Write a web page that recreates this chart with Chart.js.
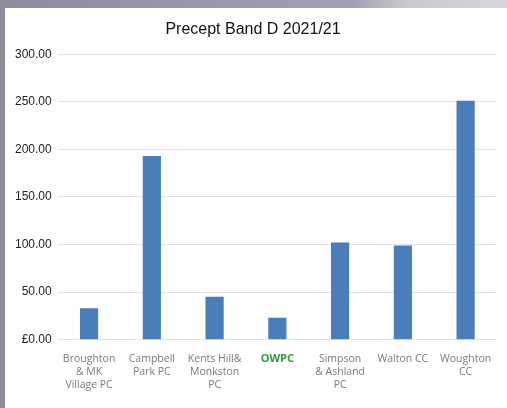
<!DOCTYPE html>
<html lang="en">
<head>
  <meta charset="UTF-8">
  <title>Precept Band D 2021/21</title>
  <style>
    html, body {
      margin: 0;
      padding: 0;
    }
    body {
      width: 507px;
      height: 408px;
      overflow: hidden;
      background: linear-gradient(to right, #8e8c9c 0%, #a3a1b1 70%, #c9c8d0 80%, #d6d6dc 100%);
      position: relative;
    }
    .panel {
      position: absolute;
      left: 5px;
      top: 8px;
      width: 502px;
      height: 400px;
      background: #fff;
    }
  </style>
  <script src="https://cdn.jsdelivr.net/npm/chart.js"></script>
</head>
<body>
<div class="panel">
  <canvas id="preceptChart"></canvas>
</div>

<script>
  // parish/town councils along the x axis
  const councils = [
    ['Broughton', '& MK', 'Village PC'],
    ['Campbell', 'Park PC'],
    ['Kents Hill&', 'Monkston', 'PC'],
    ['OWPC'],
    ['Simpson', '& Ashland', 'PC'],
    ['Walton CC'],
    ['Woughton', 'CC']
  ];

  // Band D precept (£)
  const bandD = [33, 193, 45, 23, 102, 99, 251];

  const yTicks = [0, 50, 100, 150, 200, 250, 300];

  const ctx = document.getElementById('preceptChart').getContext('2d');
  new Chart(ctx, {
    type: 'bar',
    data: {
      labels: councils,
      datasets: [{
        label: 'Band D',
        data: bandD,
        backgroundColor: '#4a7ebb',
        borderWidth: 0,
        categoryPercentage: 1,
        barPercentage: 0.29
      }]
    },
    options: {
      responsive: true,
      maintainAspectRatio: false,
      animation: false,
      layout: {
        padding: { left: 4, right: 10, top: 0, bottom: 11 }
      },
      plugins: {
        legend: { display: false },
        tooltip: { enabled: false },
        title: {
          display: true,
          text: 'Precept Band D 2021/21',
          color: '#111',
          font: { family: 'Liberation Sans', size: 16, weight: 'normal' },
          padding: { top: 12, bottom: 15 }
        }
      },
      scales: {
        y: {
          min: yTicks[0],
          max: yTicks[yTicks.length - 1],
          ticks: {
            stepSize: 50,
            color: '#222',
            padding: 6,
            font: { family: 'Liberation Sans', size: 12 },
            callback: v => v === 0 ? '£0.00' : v.toFixed(2)
          },
          grid: { color: '#e4e4e4', drawTicks: false },
          border: { display: false }
        },
        x: {
          ticks: {
            autoSkip: false,
            maxRotation: 0,
            padding: 5,
            color: ctx => ctx.index === 3 ? '#2e9a3a' : '#7a7a7a',
            font: ctx => ctx.index === 3
              ? { family: 'Open Sans', size: 11, weight: 'bold', lineHeight: 1.2 }
              : { family: 'Open Sans', size: 10.5, lineHeight: 1.25 }
          },
          grid: { display: false },
          border: { display: false }
        }
      }
    }
  });
</script>
</body>
</html>
